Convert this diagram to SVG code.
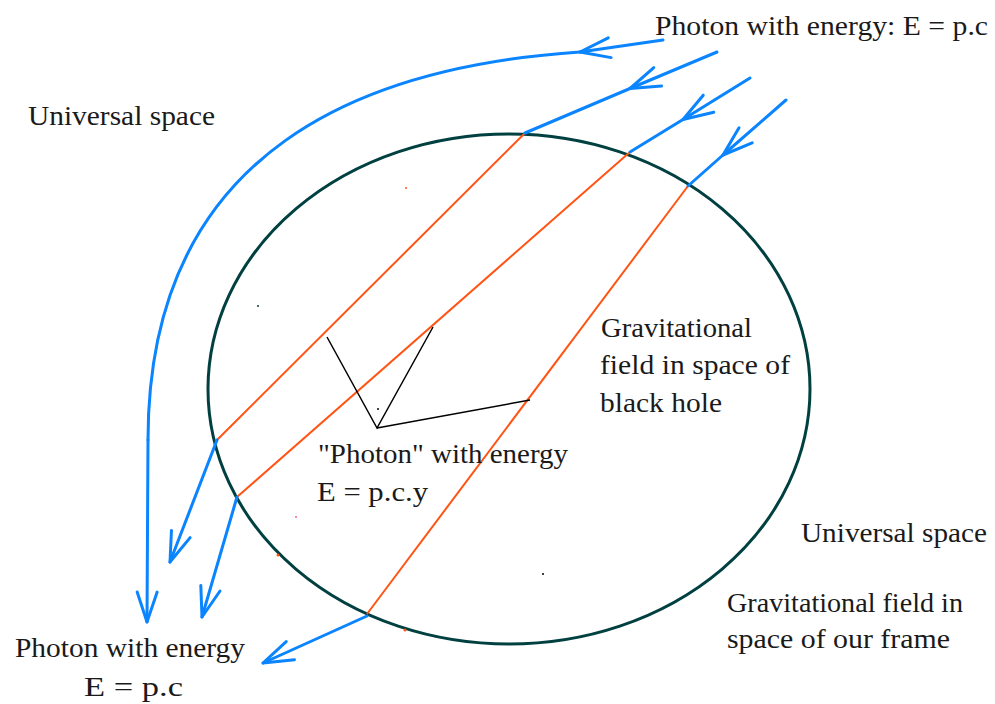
<svg xmlns="http://www.w3.org/2000/svg" width="995" height="704" viewBox="0 0 995 704">
<style>
.t{font-family:"Liberation Serif","Times New Roman",serif;font-size:28px;fill:#1a1a1a}
.blue{fill:none;stroke:#0a84ff;stroke-width:3;stroke-linecap:round;stroke-linejoin:round}
.orange{fill:none;stroke:#ff5414;stroke-width:2}
.ptr{fill:none;stroke:#000;stroke-width:1.5}
</style>
<defs>
<marker id="ah" markerUnits="userSpaceOnUse" viewBox="-34 -14 38 28" markerWidth="38" markerHeight="28" refX="0" refY="0" orient="auto" overflow="visible">
<path d="M-30,-10 L0,0 L-30,10" fill="none" stroke="#0a84ff" stroke-width="3" stroke-linecap="round" stroke-linejoin="round"/>
</marker>
</defs>
<rect width="995" height="704" fill="#fff"/>
<g id="black-hole">
<ellipse cx="509" cy="389" rx="301" ry="255" fill="none" stroke="#004040" stroke-width="3"/>
</g>
<g id="connectors">
<g id="orange-paths">
<line class="orange" x1="525" y1="133" x2="217" y2="440"/>
<line class="orange" x1="630" y1="152" x2="237" y2="497"/>
<line class="orange" x1="688" y1="186" x2="367" y2="614"/>
</g>
<g id="incoming">
<line class="blue" x1="663" y1="40" x2="580" y2="52" marker-end="url(#ah)"/>
<path class="blue" d="M580,52 C370,66 148,145 148,440"/>
<line class="blue" x1="717" y1="52" x2="630" y2="88.5" marker-end="url(#ah)"/>
<line class="blue" x1="630" y1="88.5" x2="525" y2="133"/>
<line class="blue" x1="750" y1="78" x2="683" y2="119.5" marker-end="url(#ah)"/>
<line class="blue" x1="683" y1="119.5" x2="630" y2="152"/>
<line class="blue" x1="786" y1="100" x2="723" y2="155" marker-end="url(#ah)"/>
<line class="blue" x1="723" y1="155" x2="688" y2="186"/>
</g>
<g id="outgoing">
<line class="blue" x1="148" y1="440" x2="147" y2="622" marker-end="url(#ah)"/>
<line class="blue" x1="217" y1="440" x2="170" y2="562" marker-end="url(#ah)"/>
<line class="blue" x1="237" y1="497" x2="202" y2="617" marker-end="url(#ah)"/>
<line class="blue" x1="367" y1="616" x2="263" y2="663" marker-end="url(#ah)"/>
</g>
<g id="pointers">
<polyline class="ptr" points="327,337 377,428 433,327"/>
<line class="ptr" x1="377" y1="428" x2="530" y2="400"/>
</g>
</g>
<g id="dots">
<circle cx="406" cy="188" r="1" fill="#ff5414"/>
<circle cx="258" cy="306" r="1" fill="#004040"/>
<circle cx="378" cy="409" r="1" fill="#000"/>
<circle cx="296" cy="517" r="1" fill="#ff6080"/>
<circle cx="543" cy="574" r="1" fill="#000"/>
<circle cx="278" cy="555" r="1.5" fill="#ff5414"/>
<circle cx="405" cy="630" r="1.5" fill="#ff5414"/>
</g>
<g id="label-photon-in"><text class="t" x="655" y="35" textLength="333" lengthAdjust="spacingAndGlyphs">Photon with energy: E = p.c</text></g>
<g id="label-universal-left"><text class="t" x="28" y="125" textLength="187" lengthAdjust="spacingAndGlyphs">Universal space</text></g>
<g id="label-bh-field">
<text class="t" x="601" y="337" textLength="151" lengthAdjust="spacingAndGlyphs">Gravitational</text>
<text class="t" x="600" y="374" textLength="190" lengthAdjust="spacingAndGlyphs">field in space of</text>
<text class="t" x="600" y="412" textLength="122" lengthAdjust="spacingAndGlyphs">black hole</text>
</g>
<g id="label-photon-inside">
<text class="t" x="318" y="463" textLength="250" lengthAdjust="spacingAndGlyphs">"Photon" with energy</text>
<text class="t" x="317" y="501" textLength="111" lengthAdjust="spacingAndGlyphs">E = p.c.y</text>
</g>
<g id="label-universal-right"><text class="t" x="801" y="542" textLength="186" lengthAdjust="spacingAndGlyphs">Universal space</text></g>
<g id="label-our-field">
<text class="t" x="727" y="612" textLength="236" lengthAdjust="spacingAndGlyphs">Gravitational field in</text>
<text class="t" x="727" y="648" textLength="223" lengthAdjust="spacingAndGlyphs">space of our frame</text>
</g>
<g id="label-photon-out">
<text class="t" x="15" y="657" textLength="230" lengthAdjust="spacingAndGlyphs">Photon with energy</text>
<text class="t" x="84" y="696" textLength="99" lengthAdjust="spacingAndGlyphs">E = p.c</text>
</g>
</svg>
